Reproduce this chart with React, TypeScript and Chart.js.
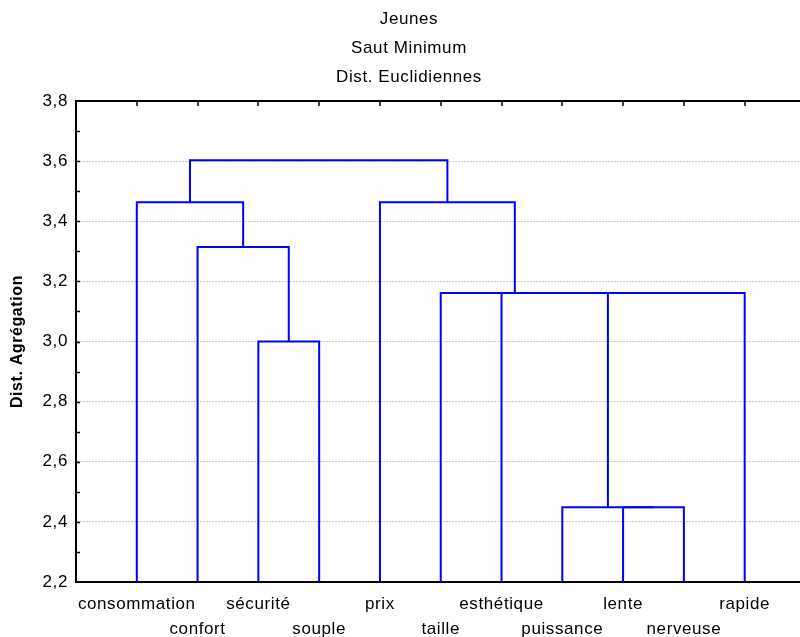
import React, { useEffect, useRef } from 'react';
import { Chart, registerables } from 'chart.js';

Chart.register(...registerables);

// ---------- data ----------
const titleLines = ['Jeunes', 'Saut Minimum', 'Dist. Euclidiennes'];
const yAxisTitle = 'Dist. Agrégation';

const leaves = [
  'consommation', 'confort', 'sécurité', 'souple', 'prix', 'taille',
  'esthétique', 'puissance', 'lente', 'nerveuse', 'rapide',
];

// merges: node ids 0..10 are leaves, merge k creates node 11 + k
const mergeLeft = [8, 7, 2, 12, 6, 5, 1, 0, 4, 18];
const mergeRight = [9, 11, 3, 10, 14, 15, 13, 17, 16, 19];
const mergeHeight = [2.449, 2.449, 3.0, 3.161, 3.161, 3.161, 3.314, 3.463, 3.463, 3.603];

const yMin = 2.2;
const yMax = 3.8;
const yStep = 0.2;
const yMinorStep = 0.1;

// ---------- styles ----------
const FONT = '"Liberation Sans", Arial, sans-serif';
const LS = '0.6px';
const BLUE = '#0000ff';

function buildDatasets() {
  const nodeX: number[] = leaves.map((_, i) => i + 1);
  const nodeH: number[] = leaves.map(() => yMin);
  const datasets: any[] = [];
  mergeLeft.forEach((a, k) => {
    const b = mergeRight[k];
    const h = mergeHeight[k];
    const xa = nodeX[a];
    const xb = nodeX[b];
    datasets.push({
      data: [
        { x: xa, y: nodeH[a] },
        { x: xa, y: h },
        { x: xb, y: h },
        { x: xb, y: nodeH[b] },
      ],
      showLine: true,
      borderColor: BLUE,
      backgroundColor: BLUE,
      borderWidth: 2,
      pointRadius: 0,
      tension: 0,
      fill: false,
    });
    nodeX.push((xa + xb) / 2);
    nodeH.push(h);
  });
  return datasets;
}

const spacingPlugin = {
  id: 'spacing',
  beforeUpdate(chart: any) { (chart.ctx as any).letterSpacing = LS; },
  beforeLayout(chart: any) { (chart.ctx as any).letterSpacing = LS; },
  beforeDraw(chart: any) { (chart.ctx as any).letterSpacing = LS; },
};

const decorPlugin = {
  id: 'decor',
  afterDraw(chart: any) {
    const ctx = chart.ctx as CanvasRenderingContext2D;
    const { left, right, top } = chart.chartArea;
    const ys = chart.scales.y;
    const xs = chart.scales.x;
    ctx.save();
    ctx.strokeStyle = '#000';
    // top frame line
    ctx.lineWidth = 2;
    ctx.beginPath();
    ctx.moveTo(left - 1, top);
    ctx.lineTo(right, top);
    ctx.stroke();
    // top ticks at leaves
    ctx.lineWidth = 1.5;
    leaves.forEach((_, i) => {
      const px = Math.round(xs.getPixelForValue(i + 1));
      ctx.beginPath();
      ctx.moveTo(px, top);
      ctx.lineTo(px, top + 5);
      ctx.stroke();
    });
    // minor inward ticks on the left axis
    const n = Math.round((yMax - yMin) / yMinorStep);
    for (let k = 1; k < n; k++) {
      const py = Math.round(ys.getPixelForValue(yMin + k * yMinorStep)) + 0.5;
      ctx.beginPath();
      ctx.moveTo(left, py);
      ctx.lineTo(left + 4, py);
      ctx.stroke();
    }
    // titles
    (ctx as any).letterSpacing = LS;
    ctx.fillStyle = '#000';
    ctx.font = `17px ${FONT}`;
    ctx.textAlign = 'center';
    ctx.textBaseline = 'alphabetic';
    const baselines = [23.5, 52.5, 81.5];
    titleLines.forEach((t, i) => ctx.fillText(t, 409, baselines[i]));
    ctx.restore();
  },
};

export default function App() {
  const ref = useRef<HTMLCanvasElement>(null);
  useEffect(() => {
    document.body.style.margin = '0';
    const canvas = ref.current!;
    Chart.defaults.font.family = FONT;
    Chart.defaults.font.size = 17;
    Chart.defaults.color = '#000';
    const chart = new Chart(canvas, {
      type: 'scatter',
      data: { datasets: buildDatasets() },
      plugins: [spacingPlugin, decorPlugin],
      options: {
        animation: false,
        responsive: false,
        maintainAspectRatio: false,
        layout: { padding: { top: 101, left: 0, right: 0, bottom: 0 } },
        plugins: {
          legend: { display: false },
          title: { display: false },
          tooltip: { enabled: false },
        },
        scales: {
          x: {
            type: 'linear',
            min: 0,
            max: 11.91,
            afterFit: (s: any) => { s.height = 55; },
            afterBuildTicks: (s: any) => {
              s.ticks = leaves.map((_, i) => ({ value: i + 1 }));
            },
            grid: { display: false, drawTicks: false },
            border: { display: true, color: '#000', width: 2 },
            ticks: {
              autoSkip: false,
              maxRotation: 0,
              minRotation: 0,
              padding: 10,
              font: { size: 17, lineHeight: 25 / 17 },
              color: '#000',
              callback: (v: any) => {
                const i = Math.round(Number(v)) - 1;
                const lab = leaves[i] ?? '';
                return i % 2 === 0 ? lab : ['', lab];
              },
            },
          },
          y: {
            type: 'linear',
            min: yMin,
            max: yMax,
            afterFit: (s: any) => { s.width = 76; },
            grid: {
              drawTicks: false,
              lineWidth: 1,
              color: (c: any) => {
                const v = c.tick ? c.tick.value : 0;
                return Math.abs(v - yMin) < 1e-6 || Math.abs(v - yMax) < 1e-6
                  ? 'rgba(0,0,0,0)'
                  : '#c8c8c8';
              },
            },
            border: { display: true, color: '#000', width: 2, dash: [2, 1] },
            ticks: {
              stepSize: yStep,
              padding: 8,
              color: '#000',
              font: { size: 17 },
              callback: (v: any) => Number(v).toFixed(1).replace('.', ','),
            },
            title: {
              display: true,
              text: yAxisTitle,
              color: '#000',
              font: { size: 16, weight: 'bold' },
              padding: { top: 8, bottom: 0 },
            },
          },
        },
      } as any,
    });
    return () => chart.destroy();
  }, []);
  return (
    <div style={{ width: 800, height: 637, overflow: 'hidden' }}>
      <canvas ref={ref} width={800} height={637} style={{ display: 'block', width: '800px', height: '637px' }} />
    </div>
  );
}
